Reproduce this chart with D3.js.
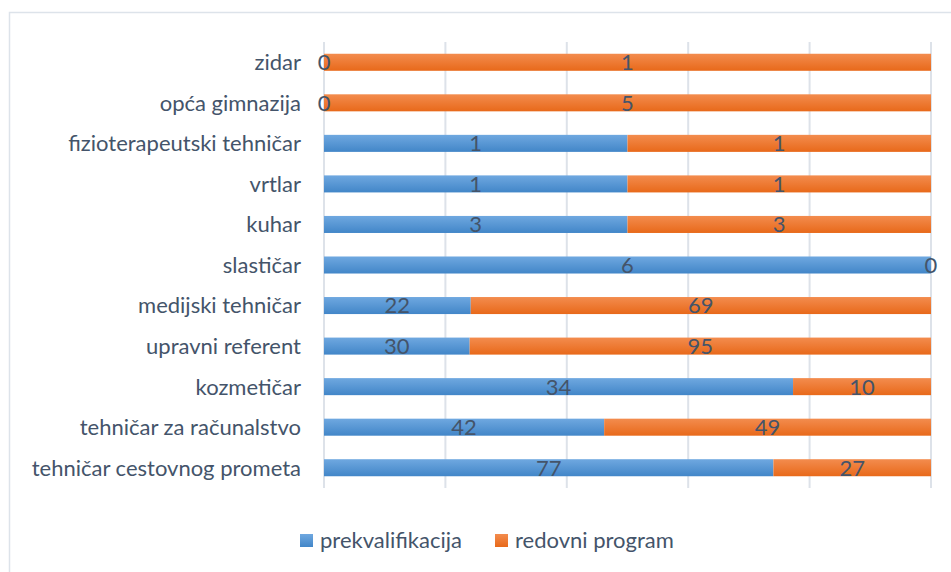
<!DOCTYPE html>
<html>
<head>
<meta charset="utf-8">
<script src="https://cdn.jsdelivr.net/npm/d3@7"></script>
<style>
  body { margin: 0; background: #fff; }
  svg { display: block; font-family: Lato, "Open Sans", sans-serif; }
</style>
</head>
<body>
<div id="chart"></div>
<script>
// data, listed top to bottom as in the picture
var categories = ["zidar", "opća gimnazija", "fizioterapeutski tehničar", "vrtlar", "kuhar",
  "slastičar", "medijski tehničar", "upravni referent", "kozmetičar",
  "tehničar za računalstvo", "tehničar cestovnog prometa"];
var prekvalifikacija = [0, 0, 1, 1, 3, 6, 22, 30, 34, 42, 77];
var redovniProgram = [1, 5, 1, 1, 3, 0, 69, 95, 10, 49, 27];
var seriesNames = ["prekvalifikacija", "redovni program"];
var xTicks = [0, 0.2, 0.4, 0.6, 0.8, 1];

var W = 951, H = 572;
var margin = { top: 42, right: 20, bottom: 84, left: 324 },
  width = 931 - margin.left,
  height = 488 - margin.top;
var fontSize = 22;

var svg = d3.select("#chart").append("svg")
  .attr("width", W)
  .attr("height", H);

var defs = svg.append("defs");
function grad(id, c1, c2) {
  var g = defs.append("linearGradient").attr("id", id)
    .attr("x1", 0).attr("y1", 0).attr("x2", 0).attr("y2", 1);
  g.append("stop").attr("offset", "0%").attr("stop-color", c1);
  g.append("stop").attr("offset", "100%").attr("stop-color", c2);
}
grad("gBlue", "#6fa8e0", "#4286c8");
grad("gOrange", "#f38c4e", "#e8691a");
var fills = ["url(#gBlue)", "url(#gOrange)"];

// chart frame
svg.append("rect")
  .attr("x", 9.5).attr("y", 12.5)
  .attr("width", 960).attr("height", 580)
  .attr("fill", "none")
  .attr("stroke", "#dde3ea")
  .attr("stroke-width", 1.5);

var g = svg.append("g")
  .attr("transform", "translate(" + margin.left + "," + margin.top + ")");

var x = d3.scaleLinear().domain([0, 1]).range([0, width]);
var y = d3.scaleBand().domain(categories).range([0, height]).paddingInner(0.58).paddingOuter(0.29);

// gridlines
g.append("g")
  .selectAll("line")
  .data(xTicks)
  .enter()
  .append("line")
  .attr("x1", d => x(d)).attr("x2", d => x(d))
  .attr("y1", 0).attr("y2", height)
  .attr("stroke", "#dde2e9")
  .attr("stroke-width", 2);

var rows = categories.map(function(c, i) {
  var a = prekvalifikacija[i], b = redovniProgram[i], t = a + b;
  return [
    { cat: c, v: a, x0: 0, x1: a / t, s: 0 },
    { cat: c, v: b, x0: a / t, x1: 1, s: 1 }
  ];
});
var segs = [].concat.apply([], rows);

g.append("g")
  .selectAll("rect")
  .data(segs.filter(d => d.x1 > d.x0))
  .enter()
  .append("rect")
  .attr("x", d => x(d.x0))
  .attr("y", d => y(d.cat))
  .attr("width", d => x(d.x1) - x(d.x0))
  .attr("height", y.bandwidth())
  .attr("fill", d => fills[d.s]);

// value labels, centred on segments
g.append("g")
  .selectAll("text")
  .data(segs)
  .enter()
  .append("text")
  .attr("x", d => x((d.x0 + d.x1) / 2))
  .attr("y", d => y(d.cat) + y.bandwidth() / 2)
  .attr("dy", "0.36em")
  .attr("text-anchor", "middle")
  .attr("font-size", fontSize)
  .attr("fill", "#44546a")
  .text(d => d.v);

// category labels
g.append("g")
  .selectAll("text")
  .data(categories)
  .enter()
  .append("text")
  .attr("x", -23)
  .attr("y", d => y(d) + y.bandwidth() / 2)
  .attr("dy", "0.36em")
  .attr("text-anchor", "end")
  .attr("font-size", fontSize)
  .attr("fill", "#44546a")
  .text(d => d);

// legend
var legX = [300, 495];
var leg = svg.append("g")
  .selectAll("g")
  .data(seriesNames)
  .enter()
  .append("g")
  .attr("transform", (d, i) => "translate(" + legX[i] + ",534)");
leg.append("rect")
  .attr("width", 13).attr("height", 13)
  .attr("fill", (d, i) => fills[i]);
leg.append("text")
  .attr("x", 20).attr("y", 6.5)
  .attr("dy", "0.36em")
  .attr("font-size", fontSize)
  .attr("fill", "#44546a")
  .text(d => d);
</script>
</body>
</html>
